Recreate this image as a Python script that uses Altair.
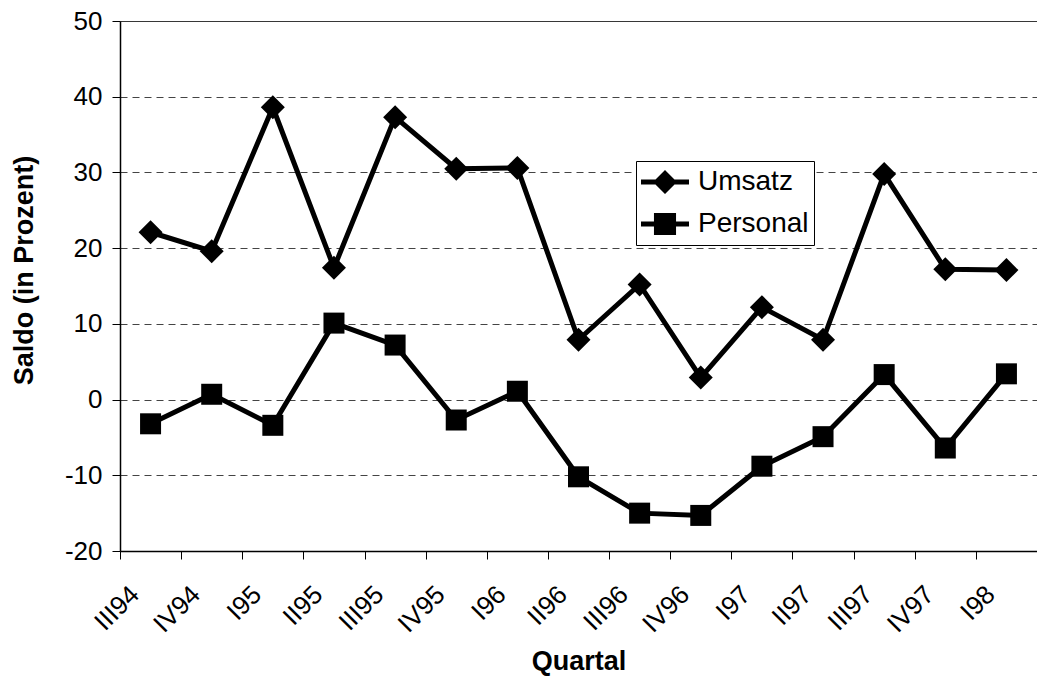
import altair as alt
import pandas as pd

quartale = ["III94", "IV94", "I95", "II95", "III95", "IV95", "I96", "II96",
            "III96", "IV96", "I97", "II97", "III97", "IV97", "I98"]
umsatz = [22.1, 19.6, 38.6, 17.4, 37.3, 30.5, 30.6, 7.9, 15.2, 2.9, 12.2, 7.9, 29.8, 17.2, 17.1]
personal = [-3.2, 0.7, -3.4, 10.1, 7.2, -2.7, 1.1, -10.2, -15.0, -15.3, -8.8, -4.9, 3.3, -6.4, 3.4]
serien = ["Umsatz", "Personal"]

rows = []
for q, u, p in zip(quartale, umsatz, personal):
    rows.append({"Quartal": q, "Serie": "Umsatz", "Saldo": u})
    rows.append({"Quartal": q, "Serie": "Personal", "Saldo": p})
df = pd.DataFrame(rows)
df["Legende"] = df["Serie"]

FONT = "Liberation Sans"

x_enc = alt.X("Quartal:N", sort=quartale,
              scale=alt.Scale(paddingInner=0, paddingOuter=0),
              axis=alt.Axis(title="Quartal", labelAngle=-45, labelAlign="right",
                            labelBaseline="middle", labelFontSize=26, labelColor="black",
                            labelFont=FONT, labelOffset=-16, labelPadding=31,
                            tickBand="extent", tickSize=8, tickColor="black",
                            domainColor="black", domainWidth=1.5, grid=False,
                            titleFontSize=27, titleFont=FONT, titleFontWeight="bold",
                            titleColor="black", titleY=110, titleBaseline="middle"))
y_enc = alt.Y("Saldo:Q",
              scale=alt.Scale(domain=[-20, 50], nice=False, zero=False),
              axis=alt.Axis(title="Saldo (in Prozent)", values=list(range(-20, 51, 10)),
                            labelExpr="'' + datum.value",
                            labelFontSize=26, labelFont=FONT, labelColor="black",
                            labelPadding=10, tickSize=8, tickColor="black",
                            domainColor="black", domainWidth=1.5,
                            grid=True,
                            gridColor={"condition": {"test": "datum.value == 50", "value": "black"},
                                       "value": "#444444"},
                            gridDash={"condition": {"test": "datum.value == 50", "value": [1, 0]},
                                      "value": [7, 5]},
                            gridWidth=1,
                            titleFontSize=27, titleFont=FONT, titleFontWeight="bold",
                            titleColor="black", titleX=-96, titleY=249,
                            titleAngle=270, titleAlign="center", titleBaseline="middle"))

base = alt.Chart(df)

lines = base.mark_line(color="black", strokeWidth=5).encode(
    x=x_enc, y=y_enc, detail="Serie:N")

points = base.mark_point(filled=True, color="black", opacity=1).encode(
    x=x_enc, y=y_enc,
    shape=alt.Shape("Serie:N", scale=alt.Scale(domain=serien, range=["diamond", "square"]),
                    legend=None),
    size=alt.Size("Serie:N", scale=alt.Scale(domain=serien, range=[576, 441]), legend=None))

sym_u = "M-1,-0.1H1V0.1H-1ZM0,-0.5L0.5,0L0,0.5L-0.5,0Z"
sym_p = "M-1,-0.1H1V0.1H-1ZM-0.46,-0.46L0.46,-0.46L0.46,0.46L-0.46,0.46Z"

legend_layer = base.transform_filter("false").mark_point(
    filled=True, color="black", opacity=1, size=2304
).encode(
    x=x_enc, y=y_enc,
    shape=alt.Shape("Legende:N", scale=alt.Scale(domain=serien, range=[sym_u, sym_p]),
                    legend=alt.Legend(title=None, orient="none", legendX=516, legendY=140,
                                      strokeColor="black", fillColor="white", padding=5,
                                      labelFontSize=28, labelFont=FONT, labelColor="black",
                                      labelOffset=9, symbolSize=2304,
                                      symbolFillColor="black", symbolStrokeWidth=0,
                                      symbolOpacity=1, clipHeight=32, rowPadding=10,
                                      labelLimit=300))
)

chart = alt.layer(lines, points, legend_layer).resolve_scale(
    shape="independent", size="independent").properties(
    width=917, height=530,
    autosize=alt.AutoSizeParams(type="none"),
    padding={"left": 112, "top": 13, "right": 0, "bottom": 125},
).configure_view(stroke=None).configure(background="white")

chart.save("out.html", embed_options={"renderer": "svg", "actions": False})
